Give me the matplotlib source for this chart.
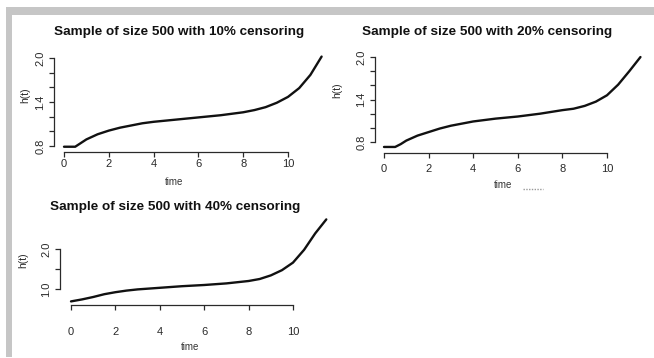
import matplotlib
matplotlib.use("Agg")
import matplotlib.pyplot as plt
from matplotlib.patches import Rectangle

plt.rcParams['font.family'] = ['Liberation Sans', 'DejaVu Sans']

W, H = 654, 358

time_pts = [0, 0.5, 0.75, 1, 1.5, 2, 2.5, 3, 3.5, 4, 5, 6, 7, 8, 8.5, 9, 9.5, 10, 10.5, 11, 11.5]
h_10 = [0.79, 0.79, 0.84, 0.89, 0.96, 1.01, 1.05, 1.08, 1.11, 1.13, 1.16, 1.19, 1.22, 1.26, 1.29, 1.33, 1.39, 1.47, 1.59, 1.77, 2.02]
h_20 = [0.73, 0.73, 0.77, 0.82, 0.89, 0.94, 0.99, 1.03, 1.06, 1.09, 1.13, 1.16, 1.20, 1.25, 1.27, 1.31, 1.37, 1.46, 1.61, 1.80, 2.00]
h_40 = [0.69, 0.74, 0.77, 0.80, 0.87, 0.92, 0.96, 0.99, 1.01, 1.03, 1.07, 1.10, 1.14, 1.20, 1.25, 1.34, 1.47, 1.66, 1.98, 2.39, 2.74]

titles = ["Sample of size 500 with 10% censoring",
          "Sample of size 500 with 20% censoring",
          "Sample of size 500 with 40% censoring"]
x_ticks = [0, 2, 4, 6, 8, 10]
y_ticks_a = [0.8, 1.0, 1.2, 1.4, 1.6, 1.8, 2.0]
y_labels_a = ["0.8", "", "", "1.4", "", "", "2.0"]
y_ticks_b = [1.0, 1.5, 2.0]
y_labels_b = ["1.0", "", "2.0"]

fig = plt.figure(figsize=(W / 100, H / 100), dpi=100)

# screenshot frame
fig.patches.append(Rectangle((6 / W, 1 - 15 / H), 1 - 6 / W, 8 / H, transform=fig.transFigure,
                             facecolor="#c6c6c6", edgecolor="none"))
fig.patches.append(Rectangle((6 / W, 1 - 357 / H), 6 / W, 342 / H, transform=fig.transFigure,
                             facecolor="#c6c6c6", edgecolor="none"))

ink = "#2a2a2a"


def panel(L, R, T, B, x0px, sx, yref_px, yref_val, sy, t, h, yt, yl, xpad, title, tx, ty, ylab_x, ylab_y):
    ax = fig.add_axes([L / W, 1 - B / H, (R - L) / W, (B - T) / H])
    ax.set_xlim((L - x0px) / sx, (R - x0px) / sx)
    ax.set_ylim(yref_val - (B - yref_px) / sy, yref_val + (yref_px - T) / sy)
    ax.patch.set_visible(False)
    ax.plot(t, h, color="#111111", lw=1.7, solid_capstyle="round", solid_joinstyle="round")
    for s in ["top", "right"]:
        ax.spines[s].set_visible(False)
    ax.spines["left"].set_bounds(yt[0], yt[-1])
    ax.spines["bottom"].set_bounds(x_ticks[0], x_ticks[-1])
    for s in ["left", "bottom"]:
        ax.spines[s].set_color(ink)
        ax.spines[s].set_linewidth(0.9)
    ax.set_xticks(x_ticks)
    ax.set_xticklabels([str(v) for v in x_ticks])
    ax.set_yticks(yt)
    ax.set_yticklabels(yl, rotation=90, va="center")
    ax.tick_params(axis="both", direction="out", length=3.8, width=0.9, color=ink,
                   labelsize=8, labelcolor=ink)
    ax.tick_params(axis="x", pad=xpad)
    ax.tick_params(axis="y", pad=2.5)
    fig.text(tx / W, 1 - ty / H, title, ha="center", va="center", fontsize=9.7,
             fontweight="bold", color="#111111")
    fig.text(ylab_x / W, 1 - ylab_y / H, "h(t)", rotation=90, ha="center", va="center",
             fontsize=7.5, color=ink)
    return ax


panel(54, 332, 53, 152, 64, 22.4, 146, 0.8, 73.3, time_pts, h_10, y_ticks_a, y_labels_a, 1.5,
      titles[0], 179, 32, 25, 95)
panel(375, 651, 53, 153, 384, 22.3, 142, 0.8, 70.8, time_pts, h_20, y_ticks_a, y_labels_a, 4,
      titles[1], 487, 32, 337, 90)
panel(60, 336, 217, 305, 71, 22.2, 289, 1.0, 40.0, time_pts, h_40, y_ticks_b, y_labels_b, 12,
      titles[2], 175, 207, 23, 260)

fig.text(174 / W, 1 - 182 / H, "time", ha="center", va="center", fontsize=7, color="#333333")
fig.text(503 / W, 1 - 185 / H, "time", ha="center", va="center", fontsize=7, color="#333333")
fig.text(190 / W, 1 - 347 / H, "time", ha="center", va="center", fontsize=7, color="#333333")
fig.add_artist(plt.Line2D([523 / W, 543 / W], [1 - 189 / H, 1 - 189 / H], transform=fig.transFigure,
                          color="#999999", lw=1.0, ls=(0, (1, 1))))

fig.savefig("out.png", dpi=100)
